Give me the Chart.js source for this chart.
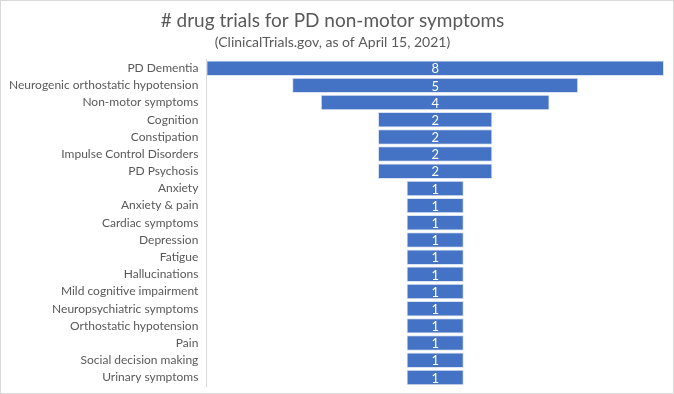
<!DOCTYPE html>
<html>
<head>
<meta charset="utf-8">
<script src="https://cdn.jsdelivr.net/npm/chart.js@4"></script>
<style>
  html, body { margin: 0; padding: 0; background: #fff; }
  .wrap { position: relative; width: 672px; height: 392px; border: 1px solid #d9d9d9; }
</style>
</head>
<body>
<div class="wrap"><canvas id="funnel" width="672" height="392"></canvas></div>
<script>
// ------------------------------------------------------- //
// Data
// ------------------------------------------------------ //
var categories = [
  "PD Dementia", "Neurogenic orthostatic hypotension", "Non-motor symptoms",
  "Cognition", "Constipation", "Impulse Control Disorders", "PD Psychosis",
  "Anxiety", "Anxiety & pain", "Cardiac symptoms", "Depression", "Fatigue",
  "Hallucinations", "Mild cognitive impairment", "Neuropsychiatric symptoms",
  "Orthostatic hypotension", "Pain", "Social decision making", "Urinary symptoms"
];
var trialCounts = [8, 5, 4, 2, 2, 2, 2, 1, 1, 1, 1, 1, 1, 1, 1, 1, 1, 1, 1];

var chartTitle = "# drug trials for PD non-motor symptoms";
var chartSubtitle = "(ClinicalTrials.gov, as of April 15, 2021)";

// funnel: every bar centred on zero
var floating = trialCounts.map(function (v) { return [-v / 2, v / 2]; });
var half = Math.max.apply(null, trialCounts) / 2;

// ------------------------------------------------------- //
// Value labels inside the bars
// ------------------------------------------------------ //
var barLabels = {
  id: 'barLabels',
  afterDatasetsDraw: function (chart) {
    var ctx = chart.ctx;
    ctx.save();
    ctx.fillStyle = '#ffffff';
    ctx.font = '13px Lato, "Open Sans", sans-serif';
    ctx.textAlign = 'center';
    ctx.textBaseline = 'middle';
    chart.getDatasetMeta(0).data.forEach(function (bar, i) {
      ctx.fillText(trialCounts[i], (bar.x + bar.base) / 2, bar.y + 1);
    });
    ctx.restore();
  }
};

var ctx = document.getElementById('funnel').getContext('2d');
var funnelChart = new Chart(ctx, {
  type: 'bar',
  data: {
    labels: categories,
    datasets: [{
      data: floating,
      backgroundColor: '#4472C4',
      borderColor: '#dae3f3',
      borderWidth: 1,
      borderSkipped: false,
      categoryPercentage: 0.9,
      barPercentage: 1
    }]
  },
  options: {
    indexAxis: 'y',
    responsive: false,
    animation: false,
    layout: { padding: { left: 0, right: 9, top: 0, bottom: 7 } },
    plugins: {
      legend: { display: false },
      tooltip: { enabled: false },
      title: {
        display: true,
        text: chartTitle,
        color: '#595959',
        font: { family: 'Lato, "Open Sans", sans-serif', size: 19, weight: 'normal' },
        padding: { top: 8, bottom: 2 }
      },
      subtitle: {
        display: true,
        text: chartSubtitle,
        color: '#595959',
        font: { family: 'Lato, "Open Sans", sans-serif', size: 14, weight: 'normal' },
        padding: { top: 0, bottom: 9 }
      }
    },
    scales: {
      x: {
        display: false,
        min: -half,
        max: half
      },
      y: {
        grid: { display: false, drawTicks: false },
        border: { display: true, color: '#d9d9d9' },
        ticks: {
          color: '#595959',
          padding: 8,
          autoSkip: false,
          font: { family: 'Lato, "Open Sans", sans-serif', size: 12 }
        },
        afterFit: function (scale) {
          // labels sit inside their bands, no extra room needed below
          scale.paddingBottom = 0;
        }
      }
    }
  },
  plugins: [barLabels]
});
</script>
</body>
</html>
